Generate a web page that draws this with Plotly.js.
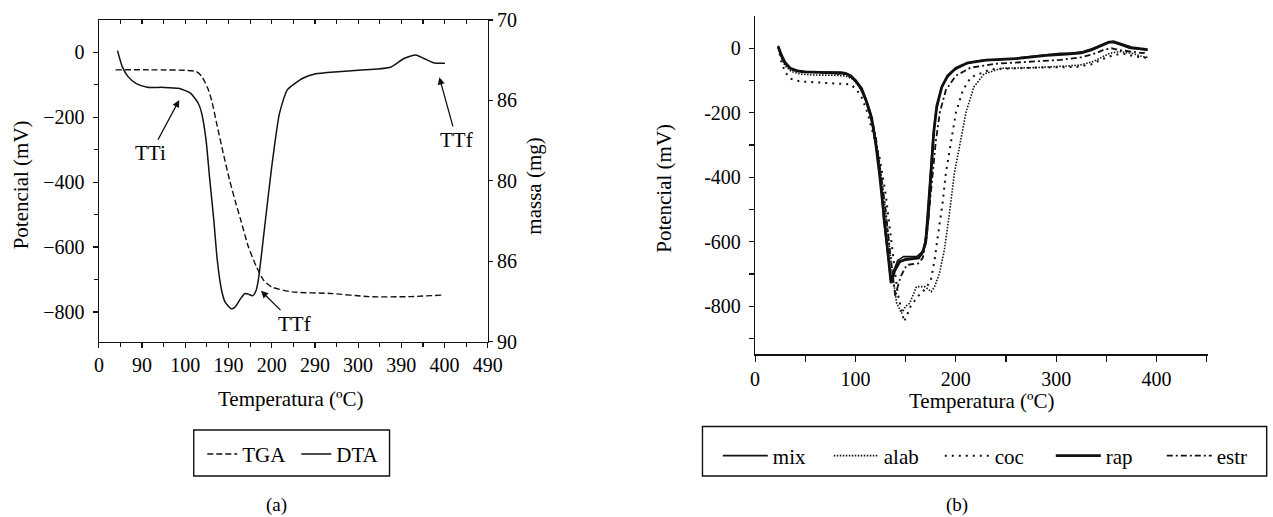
<!DOCTYPE html>
<html>
<head>
<meta charset="utf-8">
<script src="https://cdn.plot.ly/plotly-3.0.1.min.js"></script>
<style>
  html, body { margin: 0; padding: 0; background: #fff; }
  #chart { width: 1273px; height: 517px; }
</style>
</head>
<body>
<div id="chart"></div>
<script>
// (a) DTA / TGA
const dta_temp = [21.6, 27, 33.8, 42.8, 56, 74, 92, 106, 115, 119, 124, 128, 133, 137, 142, 146, 153, 157.5, 164, 169, 173, 178, 182, 184.5, 191, 200, 209, 218, 227, 236, 250, 277, 308, 337.5, 353, 367, 376, 387, 400.5]
const dta_mv = [5, -44, -75, -96, -108, -108, -111, -126, -157, -188, -270, -383, -517, -640, -733, -769, -790, -785, -759, -743, -745, -750, -733, -702, -558, -353, -188, -116, -96, -80, -67, -60, -54, -46, -19, -8, -19, -32, -34]
const tga_temp = [19.4, 60, 112.5, 119, 126, 130.5, 137, 144, 151, 157.5, 164, 173, 182, 191, 200, 223, 268, 313, 358, 398]
const tga_mass = [73.1, 73.1, 73.2, 73.5, 74.25, 75.0, 76.6, 78.3, 79.9, 81.2, 82.4, 84.1, 85.3, 86.2, 86.6, 86.9, 87.0, 87.2, 87.2, 87.1]
const a_x_ticks = [0, 50, 100, 150, 200, 250, 300, 350, 400, 450]
const a_x_labels = ['0', '90', '100', '190', '200', '290', '300', '390', '400', '490']
const a_y2_ticks = [70, 75, 80, 85, 90]
const a_y2_labels = ['70', '86', '80', '86', '90']

// (b) DTA of the five samples
const mix_temp = [23, 25, 28, 32, 38, 45, 55, 70, 85, 90, 95, 100, 105, 110, 114, 118, 122, 126, 128, 131, 133, 134.8, 138, 142, 148, 155, 161, 165, 168, 170, 172, 174, 175.5, 177, 180, 185, 190, 198, 210, 225, 250, 280, 304, 317, 327, 337, 347, 353, 358, 365, 373, 383, 391]
const mix_mv = [8, -10, -35, -55, -68, -73, -74, -74, -74, -76, -88, -103, -125, -160, -200, -255, -340, -440, -532, -600, -660, -718, -690, -658, -646, -646, -646, -635, -625, -580, -491, -420, -346, -284, -200, -130, -95, -68, -48, -38, -34, -25, -16, -16, -10, 0, 13, 21, 18, 10, 0, -3, -5]
const alab_temp = [23, 26, 30, 36, 45, 60, 80, 90, 97, 103, 109, 115, 120, 125, 131, 136, 141, 146, 150, 154, 160.8, 169, 175.5, 178.8, 183.7, 188.6, 193.6, 198.5, 204.9, 210, 218, 228, 245, 280, 310, 324, 337, 347, 353, 363, 376, 386, 391]
const alab_mv = [5, -30, -55, -72, -80, -83, -84, -86, -95, -115, -150, -210, -284, -380, -532, -680, -790, -822, -800, -791, -739, -739, -755, -739, -698, -625, -512, -388, -284, -200, -120, -80, -62, -60, -55, -52, -41, -26, -16, -10, -16, -26, -28]
const coc_temp = [23, 26, 30, 36, 45, 60, 80, 95, 100, 106, 112, 118, 124, 130, 136, 142, 148.5, 155, 162, 170, 175, 178.8, 182, 187, 190, 195, 200, 207, 215, 235, 280, 320, 335, 345, 358, 368, 378, 390]
const coc_mv = [5, -40, -75, -95, -103, -106, -110, -112, -125, -150, -200, -270, -340, -450, -600, -760, -848, -800, -770, -745, -720, -657, -584, -476, -388, -295, -200, -130, -90, -65, -60, -58, -50, -35, -20, -18, -25, -30]
const rap_temp = [23, 26, 30, 35, 42, 50, 65, 80, 90, 95, 100, 106, 111, 116, 120, 124, 127, 130, 133, 135.5, 139, 144, 150, 157, 163, 167, 170, 172.5, 174.5, 176, 178, 181, 186, 192, 200, 212, 230, 260, 290, 310, 325, 335, 345, 352, 357, 365, 375, 385, 391]
const rap_mv = [5, -20, -45, -62, -70, -73, -75, -76, -78, -85, -100, -125, -165, -215, -290, -390, -480, -570, -650, -728, -690, -662, -655, -652, -650, -632, -600, -520, -430, -350, -260, -180, -120, -85, -62, -45, -37, -32, -22, -18, -14, -5, 8, 18, 20, 12, 2, -2, -4]
const estr_temp = [23, 26, 30, 36, 45, 60, 80, 90, 96, 102, 108, 114, 120, 125, 130, 134, 137, 139.7, 142, 145, 151, 157, 162.5, 167, 170.6, 173.8, 177, 180, 184, 190, 200, 215, 240, 270, 304, 325, 340, 347, 355, 362, 372, 386, 391]
const estr_mv = [5, -25, -50, -65, -72, -75, -77, -80, -90, -108, -140, -190, -270, -380, -500, -620, -700, -770, -740, -708, -672, -670, -667, -651, -594, -491, -388, -290, -200, -130, -85, -60, -48, -42, -36, -28, -15, -5, 0, -5, -10, -15, -12]
const b_y_ticks = [-800, -600, -400, -200, 0]
const b_y_labels = ['-800', '-600', '-400', '-200', '0']

const W = 1273, H = 517
const serif = 'Liberation Serif, Times New Roman, serif'
const ink = '#111'

function px(x) { return x / W }
function py(y) { return 1 - y / H }

function line_trace(name, x, y, xa, ya, line, legend, shape) {
    return {
        type: 'scatter', mode: 'lines', name: name,
        x: x, y: y, xaxis: xa, yaxis: ya,
        line: Object.assign({color: ink, shape: shape || 'linear'}, line),
        legend: legend, hoverinfo: 'skip',
    }
}

const traces = [
    line_trace('TGA', tga_temp, tga_mass, 'x', 'y2', {width: 1.4, dash: '6px,3px', smoothing: 0.6}, 'legend', 'spline'),
    line_trace('DTA', dta_temp, dta_mv, 'x', 'y', {width: 1.5, smoothing: 0.6}, 'legend', 'spline'),
    line_trace('mix', mix_temp, mix_mv, 'x2', 'y3', {width: 1.6}, 'legend2'),
    line_trace('alab', alab_temp, alab_mv, 'x2', 'y3', {width: 1.6, dash: '1.5px,1.5px'}, 'legend2'),
    line_trace('coc', coc_temp, coc_mv, 'x2', 'y3', {width: 2, dash: '2px,5px'}, 'legend2'),
    line_trace('rap', rap_temp, rap_mv, 'x2', 'y3', {width: 2.8}, 'legend2'),
    line_trace('estr', estr_temp, estr_mv, 'x2', 'y3', {width: 1.8, dash: '6px,3px,2px,3px'}, 'legend2'),
    // carries the top tick axis of panel (a)
    {type: 'scatter', mode: 'lines', x: [], y: [], xaxis: 'x3', yaxis: 'y', showlegend: false, hoverinfo: 'skip'},
]

const tickfont = {family: serif, size: 20, color: '#000'}
const axis_base = {
    showline: true, linecolor: ink, linewidth: 1.3,
    ticks: 'outside', ticklen: 5, tickwidth: 1.2, tickcolor: ink,
    showgrid: false, zeroline: false, tickfont: tickfont, fixedrange: true,
}

function half_steps(ticks) {
    const out = []
    for (let i = 0; i < ticks.length - 1; i++) out.push((ticks[i] + ticks[i + 1]) / 2)
    return out
}

const layout = {
    width: W, height: H, autosize: false,
    margin: {t: 0, r: 0, b: 0, l: 0},
    paper_bgcolor: '#fff', plot_bgcolor: 'rgba(0,0,0,0)',
    font: {family: serif, size: 21, color: '#000'},
    showlegend: true,

    xaxis: Object.assign({}, axis_base, {
        domain: [px(100.7), px(496.7)], anchor: 'y', range: [0, 450],
        tickmode: 'array', tickvals: a_x_ticks, ticktext: a_x_labels,
        minor: {tickmode: 'array', tickvals: half_steps(a_x_ticks), ticks: 'outside', ticklen: 4, tickcolor: ink, tickwidth: 1.2},
    }),
    xaxis3: Object.assign({}, axis_base, {
        overlaying: 'x', side: 'top', anchor: 'y', range: [0, 450],
        tickmode: 'array', tickvals: a_x_ticks, showticklabels: false,
        ticks: 'inside', ticklen: 4,
        minor: {tickmode: 'array', tickvals: half_steps(a_x_ticks), ticks: 'inside', ticklen: 4, tickcolor: ink, tickwidth: 1.2},
    }),
    yaxis: Object.assign({}, axis_base, {
        domain: [py(341.7), py(20)], anchor: 'x', range: [-891.6, 99.5],
        tickmode: 'linear', tick0: 0, dtick: 200, ticklabelstandoff: 4,
        minor: {tickmode: 'array', tickvals: [-700, -500, -300, -100], ticks: 'outside', ticklen: 4, tickcolor: ink, tickwidth: 1.2},
    }),
    yaxis2: Object.assign({}, axis_base, {
        overlaying: 'y', side: 'right', anchor: 'x', range: [90, 70],
        tickmode: 'array', tickvals: a_y2_ticks, ticktext: a_y2_labels, ticklen: 4,
    }),

    xaxis2: Object.assign({}, axis_base, {
        domain: [px(769), px(1230)], anchor: 'y3', range: [0, 451],
        tickmode: 'linear', tick0: 0, dtick: 100, ticklen: 6,
        minor: {tickmode: 'linear', tick0: 50, dtick: 100, ticks: 'outside', ticklen: 6, tickcolor: ink, tickwidth: 1.2},
    }),
    yaxis3: Object.assign({}, axis_base, {
        domain: [py(354.3), py(16)], anchor: 'x2', range: [-949, 100],
        tickmode: 'array', tickvals: b_y_ticks, ticktext: b_y_labels, ticklabelstandoff: 4,
        minor: {tickmode: 'array', tickvals: [-900, -700, -500, -300, -100], ticks: 'outside', ticklen: 5, tickcolor: ink, tickwidth: 1.2},
    }),

    legend: {
        orientation: 'h', x: px(206), y: py(454.3), xanchor: 'left', yanchor: 'middle',
        bgcolor: 'rgba(0,0,0,0)', borderwidth: 0, font: {family: serif, size: 21, color: '#000'},
        entrywidth: 49, entrywidthmode: 'pixels', itemwidth: 30, tracegroupgap: 0,
    },
    legend2: {
        orientation: 'h', x: px(731), y: py(456), xanchor: 'left', yanchor: 'middle',
        bgcolor: 'rgba(0,0,0,0)', borderwidth: 0, font: {family: serif, size: 21, color: '#000'},
        entrywidth: 51, entrywidthmode: 'pixels', itemwidth: 45, tracegroupgap: 0,
    },

    shapes: [
        {type: 'rect', xref: 'paper', yref: 'paper', x0: px(197.3), x1: px(396.7), y0: py(476), y1: py(430), line: {color: ink, width: 1.4}},
        {type: 'rect', xref: 'paper', yref: 'paper', x0: px(715.4), x1: px(1290), y0: py(476), y1: py(426.5), line: {color: ink, width: 1.4}},
    ],

    annotations: [
        // axis titles
        {xref: 'paper', yref: 'paper', x: px(296.7), y: py(399), text: 'Temperatura (ºC)', showarrow: false, xanchor: 'center', yanchor: 'middle'},
        {xref: 'paper', yref: 'paper', x: px(21.7), y: py(185), text: 'Potencial (mV)', textangle: -90, showarrow: false, xanchor: 'center', yanchor: 'middle'},
        {xref: 'paper', yref: 'paper', x: px(543.5), y: py(186), text: 'massa (mg)', textangle: -90, showarrow: false, xanchor: 'center', yanchor: 'middle'},
        {xref: 'paper', yref: 'paper', x: px(999.7), y: py(401), text: 'Temperatura (ºC)', showarrow: false, xanchor: 'center', yanchor: 'middle'},
        {xref: 'paper', yref: 'paper', x: px(676), y: py(188), text: 'Potencial (mV)', textangle: -90, showarrow: false, xanchor: 'center', yanchor: 'middle'},
        // panel letters
        {xref: 'paper', yref: 'paper', x: px(282), y: py(505), text: '(a)', showarrow: false, xanchor: 'center', yanchor: 'middle', font: {size: 19}},
        {xref: 'paper', yref: 'paper', x: px(975), y: py(505), text: '(b)', showarrow: false, xanchor: 'center', yanchor: 'middle', font: {size: 19}},
        // pointers on the DTA curve
        {xref: 'x', yref: 'y', x: 93, y: -147, axref: 'x', ayref: 'y', ax: 60, ay: -311, text: 'TTi',
         showarrow: true, arrowhead: 2, arrowsize: 1.1, arrowwidth: 1.3, arrowcolor: ink, standoff: 0},
        {xref: 'x', yref: 'y', x: 187.6, y: -735, axref: 'x', ayref: 'y', ax: 226, ay: -836, text: 'TTf',
         showarrow: true, arrowhead: 2, arrowsize: 1.1, arrowwidth: 1.3, arrowcolor: ink, standoff: 0},
        {xref: 'x', yref: 'y', x: 394, y: -77, axref: 'x', ayref: 'y', ax: 414, ay: -270, text: 'TTf',
         showarrow: true, arrowhead: 2, arrowsize: 1.1, arrowwidth: 1.3, arrowcolor: ink, standoff: 0},
    ],
}

Plotly.newPlot('chart', traces, layout, {displayModeBar: false, staticPlot: true})
</script>
</body>
</html>
